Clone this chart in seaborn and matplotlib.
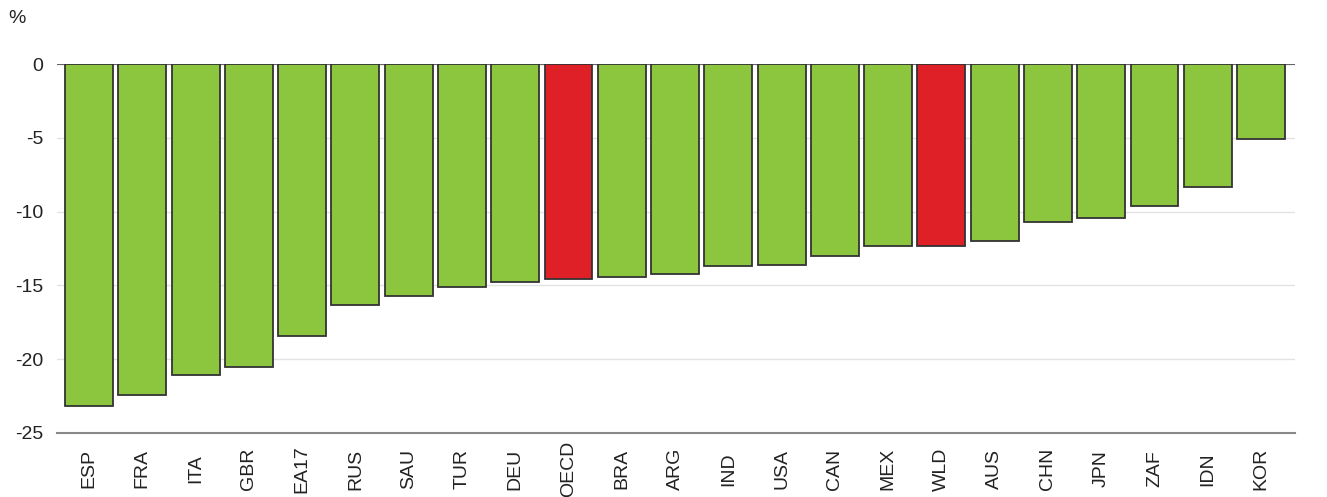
import matplotlib
matplotlib.use("Agg")
import matplotlib.pyplot as plt
import seaborn as sns
import pandas as pd

countries = ["ESP", "FRA", "ITA", "GBR", "EA17", "RUS", "SAU", "TUR", "DEU", "OECD",
             "BRA", "ARG", "IND", "USA", "CAN", "MEX", "WLD", "AUS", "CHN", "JPN",
             "ZAF", "IDN", "KOR"]
values = [-23.2, -22.4, -21.1, -20.5, -18.4, -16.3, -15.7, -15.1, -14.8, -14.6,
          -14.4, -14.2, -13.7, -13.6, -13.0, -12.3, -12.3, -12.0, -10.7, -10.4,
          -9.6, -8.3, -5.1]
highlight = ["OECD", "WLD"]

GREEN = "#8CC63F"
RED = "#DF2027"

df = pd.DataFrame({"country": countries, "value": values})
palette = {c: (RED if c in highlight else GREEN) for c in countries}

sns.set_style("white")
plt.rcParams["font.family"] = ["Liberation Sans", "DejaVu Sans"]

fig = plt.figure(figsize=(13.27, 4.97), dpi=100)
ax = fig.add_axes([0.043, 0.129, 0.933, 0.742])

sns.barplot(data=df, x="country", y="value", hue="country", palette=palette,
            legend=False, width=0.9, edgecolor="#333333", linewidth=1.3,
            saturation=1, ax=ax, zorder=3)

ax.set_ylim(-25, 0)
ax.set_xlim(-0.6, 22.64)
ax.set_yticks([0, -5, -10, -15, -20, -25])
ax.set_yticklabels(["0", "-5", "-10", "-15", "-20", "-25"])
ax.yaxis.grid(True, color="#e3e3e3", linewidth=1.0, zorder=0)
ax.set_axisbelow(True)
for s in ["left", "right", "top"]:
    ax.spines[s].set_visible(False)
ax.spines["bottom"].set_color("#888888")
ax.spines["bottom"].set_linewidth(1.5)
ax.axhline(0, color="#666666", linewidth=1.5, zorder=2)

ax.set_xlabel("")
ax.set_ylabel("")
ax.tick_params(axis="x", labelrotation=90, labelsize=14, colors="#222222", length=0, pad=26)
for lab in ax.get_xticklabels():
    lab.set_verticalalignment("center")
ax.tick_params(axis="y", labelsize=14, colors="#222222", length=0, pad=10)

fig.text(0.006, 0.962, "%", fontsize=14, color="#222222", va="center", ha="left")

fig.savefig("out.png", dpi=100)
